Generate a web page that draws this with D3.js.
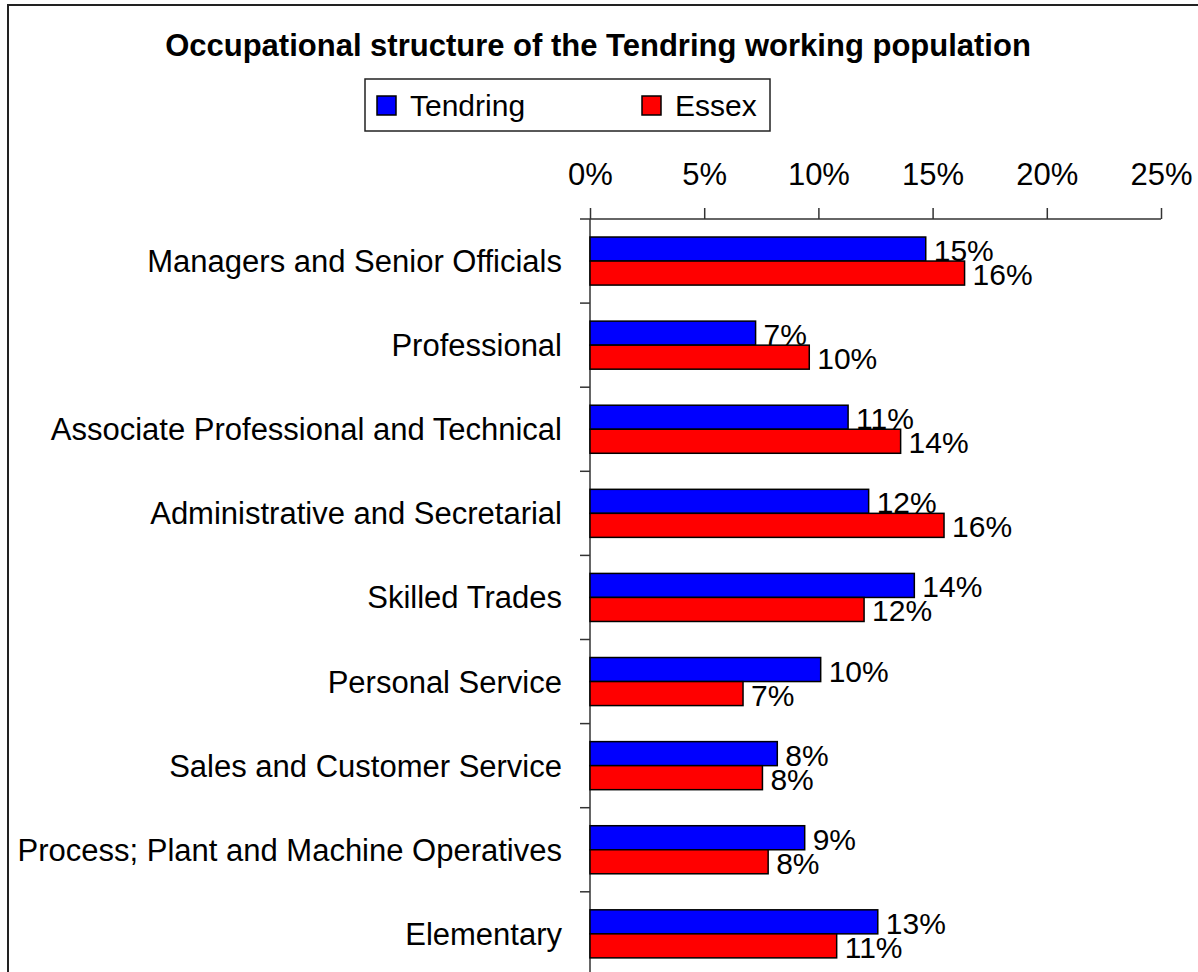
<!DOCTYPE html>
<html lang="en">
<head>
  <meta charset="UTF-8" />
  <title>Occupational structure of the Tendring working population</title>
  <style>
    body { margin: 0; background: #fff; }
    svg { font-family: "Liberation Sans", Arial, sans-serif; }
  </style>
  <script src="https://d3js.org/d3.v7.min.js"></script>
</head>
<body>
  <script>
    // values, in percent
    const categories = [
      "Managers and Senior Officials",
      "Professional",
      "Associate Professional and Technical",
      "Administrative and Secretarial",
      "Skilled Trades",
      "Personal Service",
      "Sales and Customer Service",
      "Process; Plant and Machine Operatives",
      "Elementary"
    ];
    const seriesNames = ["Tendring", "Essex"];
    const tendring = [14.7, 7.25, 11.3, 12.2, 14.2, 10.1, 8.2, 9.4, 12.6];
    const essex = [16.4, 9.6, 13.6, 15.5, 12.0, 6.7, 7.55, 7.8, 10.8];
    const xTicks = [0, 5, 10, 15, 20, 25];
    const colors = ["#0000FF", "#FF0000"];

    const width = 1198, height = 972;
    const x0 = 590, x1 = 1161, yTop = 219, step = 84.1;

    const svg = d3.select("body").append("svg")
      .attr("width", width)
      .attr("height", height);

    // outer chart border (runs off the right and bottom of the picture)
    svg.append("rect")
      .attr("x", 8).attr("y", 5)
      .attr("width", 1300).attr("height", 1100)
      .attr("fill", "none")
      .attr("stroke", "#222")
      .attr("stroke-width", 2);

    svg.append("text")
      .attr("x", 598).attr("y", 56)
      .attr("text-anchor", "middle")
      .attr("font-weight", "bold")
      .attr("font-size", 31)
      .text("Occupational structure of the Tendring working population");

    // legend
    const legend = svg.append("g");
    legend.append("rect")
      .attr("x", 365).attr("y", 79)
      .attr("width", 405).attr("height", 52)
      .attr("fill", "#fff")
      .attr("stroke", "#222")
      .attr("stroke-width", 1.5);
    const legX = [377, 642];
    seriesNames.forEach((name, i) => {
      legend.append("rect")
        .attr("x", legX[i]).attr("y", 96)
        .attr("width", 19).attr("height", 19)
        .attr("fill", colors[i])
        .attr("stroke", "#000")
        .attr("stroke-width", 1.5);
      legend.append("text")
        .attr("x", legX[i] + 33).attr("y", 116)
        .attr("font-size", 30)
        .text(name);
    });

    const x = d3.scaleLinear().domain([0, 25]).range([x0, x1]);
    const y = d3.scaleBand()
      .domain(categories)
      .range([yTop, yTop + step * categories.length])
      .padding(0);
    const ySub = d3.scaleBand()
      .domain(seriesNames)
      .range([0, y.bandwidth()])
      .paddingInner(0)
      .paddingOuter(0.75);

    // x axis on top
    const xAxis = d3.axisTop(x)
      .tickValues(xTicks)
      .tickFormat(d => d + "%")
      .tickSize(11)
      .tickSizeOuter(0)
      .tickPadding(23);
    const gx = svg.append("g")
      .attr("transform", "translate(0," + yTop + ")")
      .call(xAxis);
    gx.select(".domain").remove();
    gx.append("line")
      .attr("x1", x0 - 10).attr("x2", x1)
      .attr("stroke", "#333").attr("stroke-width", 1.5);
    gx.selectAll(".tick line").attr("stroke", "#333").attr("stroke-width", 1.5);
    gx.selectAll(".tick text")
      .attr("font-size", 31)
      .attr("fill", "#000")
      .attr("font-family", "'Liberation Sans', Arial, sans-serif");

    // y axis: vertical line plus ticks at band edges
    const gy = svg.append("g");
    gy.append("line")
      .attr("x1", x0).attr("x2", x0)
      .attr("y1", yTop).attr("y2", height + 10)
      .attr("stroke", "#333").attr("stroke-width", 1.5);
    gy.selectAll("line.cat")
      .data(categories)
      .enter().append("line")
      .attr("class", "cat")
      .attr("x1", x0 - 10).attr("x2", x0)
      .attr("y1", d => y(d) + step)
      .attr("y2", d => y(d) + step)
      .attr("stroke", "#333").attr("stroke-width", 1.5);
    gy.selectAll("text.cat")
      .data(categories)
      .enter().append("text")
      .attr("class", "cat")
      .attr("x", x0 - 28)
      .attr("y", d => y(d) + y.bandwidth() / 2 + 11)
      .attr("text-anchor", "end")
      .attr("font-size", 31)
      .text(d => d);

    const rows = categories.map((c, i) => ({
      cat: c,
      vals: [
        { s: "Tendring", v: tendring[i], c: colors[0] },
        { s: "Essex", v: essex[i], c: colors[1] }
      ]
    }));

    const groups = svg.selectAll("g.row")
      .data(rows)
      .enter().append("g")
      .attr("class", "row")
      .attr("transform", d => "translate(0," + y(d.cat) + ")");

    groups.selectAll("rect")
      .data(d => d.vals)
      .enter().append("rect")
      .attr("x", x(0))
      .attr("y", d => ySub(d.s))
      .attr("width", d => x(d.v) - x(0))
      .attr("height", ySub.bandwidth())
      .attr("fill", d => d.c)
      .attr("stroke", "#000")
      .attr("stroke-width", 1.5);

    groups.selectAll("text")
      .data(d => d.vals)
      .enter().append("text")
      .attr("x", d => x(d.v) + 8)
      .attr("y", d => ySub(d.s) + ySub.bandwidth() / 2 + 12)
      .attr("font-size", 30)
      .text(d => Math.round(d.v) + "%");
  </script>
</body>
</html>
